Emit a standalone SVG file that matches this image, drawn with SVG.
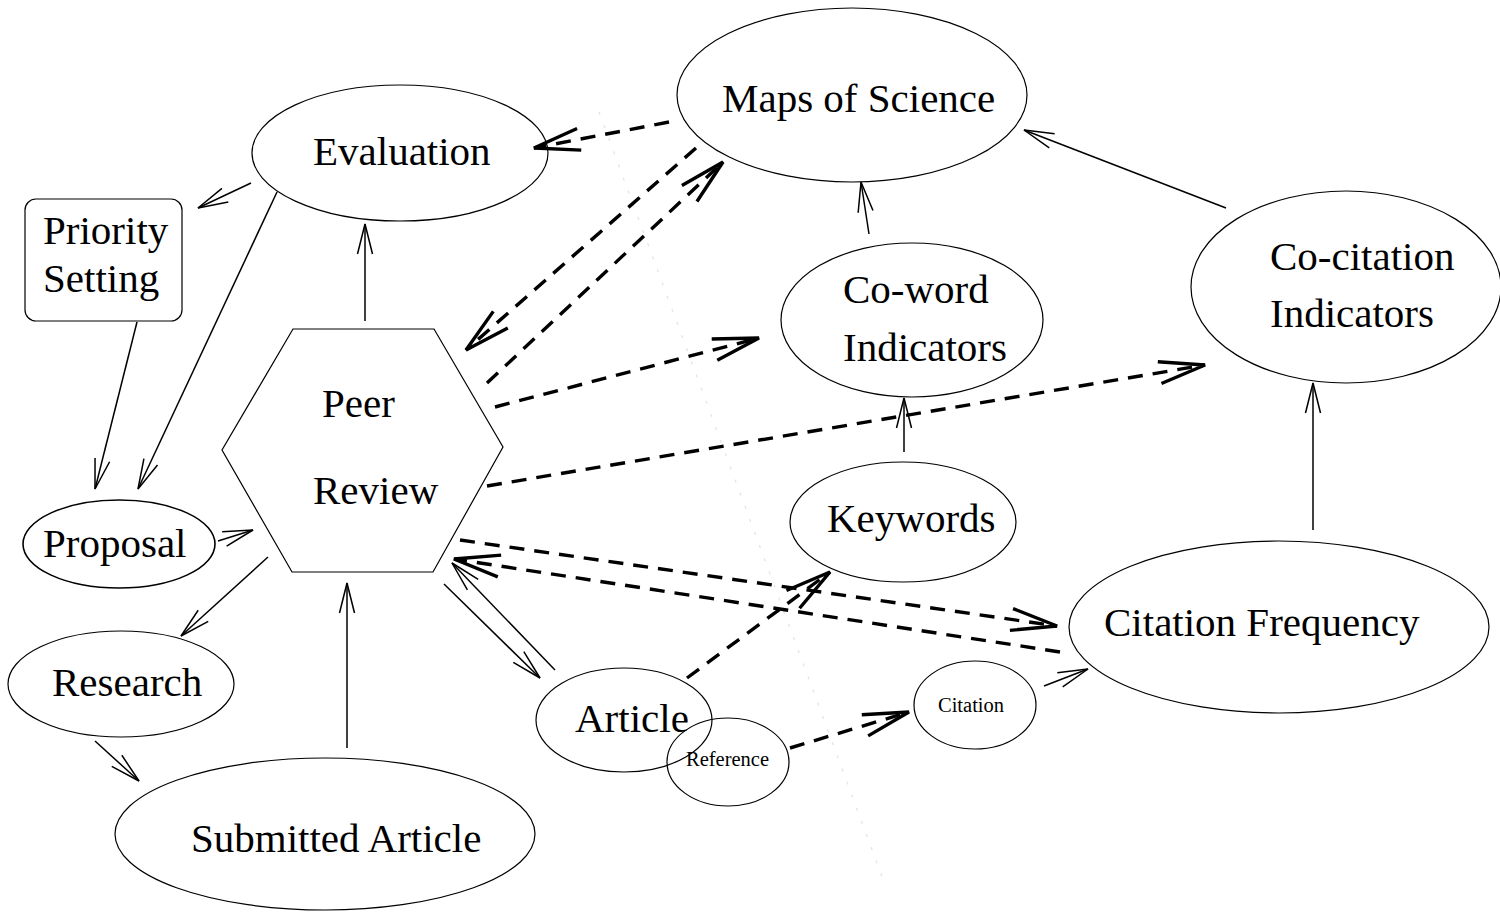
<svg xmlns="http://www.w3.org/2000/svg" width="1500" height="915" viewBox="0 0 1500 915">
  <style>
    .shape { fill: none; stroke: #000; stroke-width: 1.2; }
    .lbl { font-family: "Liberation Serif", "Times New Roman", serif; font-size: 41px; fill: #000; }
    .small { font-family: "Liberation Serif", "Times New Roman", serif; font-size: 20.5px; fill: #000; }
    .solid { fill: none; stroke: #000; stroke-width: 1.5; marker-end: url(#thin); }
    .dash { fill: none; stroke: #000; stroke-width: 3.4; stroke-dasharray: 15 10; marker-end: url(#thick); }
    .guide { fill: none; stroke: #e2e2e2; stroke-width: 1.2; stroke-dasharray: 3 11; }
  </style>
  <defs>
    <marker id="thin" markerUnits="userSpaceOnUse" viewBox="-32 -10 34 20" refX="0" refY="0" markerWidth="34" markerHeight="20" orient="auto" overflow="visible">
      <path d="M -30 -7.5 L 0 0 L -30 7.5" fill="none" stroke="#000" stroke-width="1.5"/>
    </marker>
    <marker id="thick" markerUnits="userSpaceOnUse" viewBox="-48 -13 52 26" refX="0" refY="0" markerWidth="52" markerHeight="26" orient="auto" overflow="visible">
      <path d="M -46 -11 L 0 0 L -46 11" fill="none" stroke="#000" stroke-width="3.4"/>
    </marker>
  </defs>

  <rect width="1500" height="915" fill="#fff"/>

  <!-- faint dotted guide line -->
  <line class="guide" x1="599" y1="112" x2="884" y2="882"/>

  <g id="connectors">
    <!-- solid arrows -->
    <line class="solid" x1="365" y1="321" x2="365" y2="224"/>
    <line class="solid" x1="251" y1="183" x2="198" y2="208"/>
    <line class="solid" x1="277" y1="192" x2="138" y2="489"/>
    <line class="solid" x1="137" y1="322" x2="95" y2="489"/>
    <line class="solid" x1="218" y1="541" x2="253" y2="530"/>
    <line class="solid" x1="268" y1="557" x2="181" y2="636"/>
    <line class="solid" x1="95" y1="741" x2="139" y2="781"/>
    <line class="solid" x1="347" y1="748" x2="347" y2="583"/>
    <line class="solid" x1="444" y1="584" x2="540" y2="678"/>
    <line class="solid" x1="555" y1="670" x2="452" y2="563"/>
    <line class="solid" x1="869" y1="234" x2="861" y2="182"/>
    <line class="solid" x1="904" y1="452" x2="904" y2="398"/>
    <line class="solid" x1="1226" y1="208" x2="1024" y2="130"/>
    <line class="solid" x1="1313" y1="530" x2="1313" y2="383"/>
    <line class="solid" x1="1044" y1="686" x2="1088" y2="669"/>
    <!-- dashed arrows -->
    <line class="dash" x1="669" y1="122" x2="534" y2="148"/>
    <line class="dash" x1="696" y1="148" x2="466" y2="350"/>
    <line class="dash" x1="487" y1="383" x2="723" y2="162"/>
    <line class="dash" x1="495" y1="407" x2="759" y2="338"/>
    <line class="dash" x1="487" y1="486" x2="1205" y2="365"/>
    <line class="dash" x1="460" y1="540" x2="1057" y2="626"/>
    <line class="dash" x1="1060" y1="652" x2="454" y2="559"/>
    <line class="dash" x1="687" y1="678" x2="830" y2="572"/>
    <line class="dash" x1="790" y1="748" x2="909" y2="712"/>
  </g>

  <g id="maps-of-science">
    <ellipse class="shape" cx="852" cy="95" rx="175" ry="87"/>
    <text class="lbl" x="722" y="112">Maps of Science</text>
  </g>
  <g id="evaluation">
    <ellipse class="shape" cx="400" cy="153" rx="148" ry="68"/>
    <text class="lbl" x="313" y="165">Evaluation</text>
  </g>
  <g id="priority-setting">
    <rect class="shape" x="25" y="199" width="157" height="122" rx="11"/>
    <text class="lbl" x="43" y="244">Priority</text>
    <text class="lbl" x="43" y="292">Setting</text>
  </g>
  <g id="proposal">
    <ellipse class="shape" cx="119" cy="544" rx="96" ry="44" style="stroke-width:1.6"/>
    <text class="lbl" x="43" y="557">Proposal</text>
  </g>
  <g id="peer-review">
    <polygon class="shape" points="293,329 434,329 503,447 433,572 292,572 222,450"/>
    <text class="lbl" x="322" y="417">Peer</text>
    <text class="lbl" x="313" y="504">Review</text>
  </g>
  <g id="research">
    <ellipse class="shape" cx="121" cy="684" rx="113" ry="53"/>
    <text class="lbl" x="52" y="696">Research</text>
  </g>
  <g id="submitted-article">
    <ellipse class="shape" cx="325" cy="834" rx="210" ry="76"/>
    <text class="lbl" x="191" y="852">Submitted Article</text>
  </g>
  <g id="article">
    <ellipse class="shape" cx="624" cy="720" rx="88" ry="52"/>
    <text class="lbl" x="575" y="732">Article</text>
  </g>
  <g id="reference">
    <ellipse class="shape" cx="728" cy="762" rx="61" ry="44"/>
    <text class="small" x="686" y="766">Reference</text>
  </g>
  <g id="citation">
    <ellipse class="shape" cx="975" cy="705" rx="61" ry="44"/>
    <text class="small" x="938" y="712">Citation</text>
  </g>
  <g id="citation-frequency">
    <ellipse class="shape" cx="1279" cy="627" rx="210" ry="86"/>
    <text class="lbl" x="1104" y="636">Citation Frequency</text>
  </g>
  <g id="keywords">
    <ellipse class="shape" cx="903" cy="522" rx="113" ry="60"/>
    <text class="lbl" x="827" y="532">Keywords</text>
  </g>
  <g id="co-word-indicators">
    <ellipse class="shape" cx="912" cy="320" rx="131" ry="77"/>
    <text class="lbl" x="843" y="303">Co-word</text>
    <text class="lbl" x="843" y="361">Indicators</text>
  </g>
  <g id="co-citation-indicators">
    <ellipse class="shape" cx="1346" cy="287" rx="155" ry="96"/>
    <text class="lbl" x="1270" y="270">Co-citation</text>
    <text class="lbl" x="1270" y="327">Indicators</text>
  </g>
</svg>
